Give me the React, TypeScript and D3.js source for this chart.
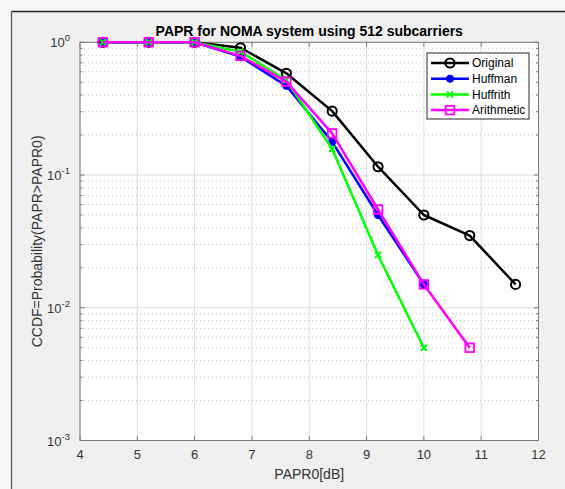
import * as d3 from "d3";
import React from "react";

// PAPR values in dB where the CCDF was sampled
const paprOriginal = [4.4, 5.2, 6, 6.8, 7.6, 8.4, 9.2, 10, 10.8, 11.6];
const ccdfOriginal = [1, 1, 1, 0.91, 0.584, 0.303, 0.1155, 0.05, 0.035, 0.015];

const paprHuffman = [4.4, 5.2, 6, 6.8, 7.6, 8.4, 9.2, 10];
const ccdfHuffman = [1, 1, 1, 0.78, 0.47, 0.178, 0.05, 0.015];

const paprHuffrith = [4.4, 5.2, 6, 6.8, 7.6, 8.4, 9.2, 10];
const ccdfHuffrith = [1, 1, 1, 0.85, 0.52, 0.157, 0.025, 0.005];

const paprArithmetic = [4.4, 5.2, 6, 6.8, 7.6, 8.4, 9.2, 10, 10.8];
const ccdfArithmetic = [1, 1, 1, 0.79, 0.505, 0.206, 0.055, 0.015, 0.005];

const xTicks = [4, 5, 6, 7, 8, 9, 10, 11, 12];
const yDecades = [0, -1, -2, -3];

const W = 565;
const H = 489;
const margin = { left: 80, right: 26.5, top: 42.3, bottom: 48.5 };
const font = "'Liberation Sans', Arial, Helvetica, sans-serif";

const series = [
  { name: "Original", x: paprOriginal, y: ccdfOriginal, color: "#000000", marker: "circle" },
  { name: "Huffman", x: paprHuffman, y: ccdfHuffman, color: "#0000ff", marker: "dot" },
  { name: "Huffrith", x: paprHuffrith, y: ccdfHuffrith, color: "#00ff00", marker: "cross" },
  { name: "Arithmetic", x: paprArithmetic, y: ccdfArithmetic, color: "#ff00ff", marker: "square" },
];

const Marker = ({ type, cx, cy, color }) => {
  if (type === "circle")
    return <circle cx={cx} cy={cy} r={4.6} fill="none" stroke={color} strokeWidth={2} />;
  if (type === "dot")
    return <circle cx={cx} cy={cy} r={3.6} fill={color} stroke={color} strokeWidth={1} />;
  if (type === "cross")
    return (
      <path
        d={`M${cx - 3},${cy - 3}L${cx + 3},${cy + 3}M${cx - 3},${cy + 3}L${cx + 3},${cy - 3}`}
        stroke={color}
        strokeWidth={2}
      />
    );
  return (
    <rect x={cx - 4.3} y={cy - 4.3} width={8.6} height={8.6} fill="none" stroke={color} strokeWidth={1.8} />
  );
};

export default function App() {
  const x0 = margin.left;
  const x1 = W - margin.right;
  const y0 = margin.top;
  const y1 = H - margin.bottom;

  const x = d3.scaleLinear().domain([4, 12]).range([x0, x1]);
  const y = d3.scaleLog().domain([1e-3, 1]).range([y1, y0]);

  const minors = [];
  yDecades.slice(1).forEach((e) => {
    for (let k = 2; k <= 9; k++) minors.push(k * Math.pow(10, e));
  });

  const line = d3
    .line()
    .x((d) => x(d[0]))
    .y((d) => y(d[1]));

  const tick = 4.6;
  const legX = 427;
  const legY = 53;
  const rowH = 15.7;

  return (
    <svg
      width={W}
      height={H}
      style={{ position: "absolute", left: 0, top: 0, fontFamily: font }}
    >
      <rect width={W} height={H} fill="#f7f7f7" />
      <rect x={11.5} y={11.5} width={W} height={H} fill="#f0f0f0" />
      <line x1={11.5} y1={11.5} x2={W} y2={11.5} stroke="#222" strokeWidth={1.3} />
      <line x1={11.5} y1={11.5} x2={11.5} y2={H} stroke="#555" strokeWidth={1.3} />

      <rect x={x0} y={y0} width={x1 - x0} height={y1 - y0} fill="#ffffff" />

      {/* minor grid */}
      {minors.map((v) => (
        <line
          key={"mg" + v}
          x1={x0}
          x2={x1}
          y1={y(v)}
          y2={y(v)}
          stroke="#c4c4c4"
          strokeWidth={1}
          strokeDasharray="1,3"
        />
      ))}
      {/* major grid */}
      {xTicks.map((t) => (
        <line key={"gx" + t} x1={x(t)} x2={x(t)} y1={y0} y2={y1} stroke="#dedede" strokeWidth={1} />
      ))}
      {yDecades.map((e) => (
        <line
          key={"gy" + e}
          x1={x0}
          x2={x1}
          y1={y(Math.pow(10, e))}
          y2={y(Math.pow(10, e))}
          stroke="#dedede"
          strokeWidth={1}
        />
      ))}

      {/* ticks */}
      {xTicks.map((t) => (
        <g key={"tx" + t} stroke="#7a7a7a">
          <line x1={x(t)} x2={x(t)} y1={y1} y2={y1 - tick} />
          <line x1={x(t)} x2={x(t)} y1={y0} y2={y0 + tick} />
        </g>
      ))}
      {yDecades.map((e) => (
        <g key={"ty" + e} stroke="#7a7a7a">
          <line x1={x0} x2={x0 + tick} y1={y(Math.pow(10, e))} y2={y(Math.pow(10, e))} />
          <line x1={x1} x2={x1 - tick} y1={y(Math.pow(10, e))} y2={y(Math.pow(10, e))} />
        </g>
      ))}
      {minors.map((v) => (
        <g key={"tm" + v} stroke="#7a7a7a">
          <line x1={x0} x2={x0 + 2.5} y1={y(v)} y2={y(v)} />
          <line x1={x1} x2={x1 - 2.5} y1={y(v)} y2={y(v)} />
        </g>
      ))}

      <rect x={x0} y={y0} width={x1 - x0} height={y1 - y0} fill="none" stroke="#7a7a7a" strokeWidth={1} />

      {/* tick labels */}
      {xTicks.map((t) => (
        <text key={"lx" + t} x={x(t)} y={y1 + 18.5} fontSize={13} fill="#333" textAnchor="middle">
          {t}
        </text>
      ))}
      {yDecades.map((e) => (
        <text key={"ly" + e} x={x0 - 10} y={y(Math.pow(10, e)) + 5} fontSize={13} fill="#333" textAnchor="end">
          10
          <tspan fontSize={9.5} dy={-6}>
            {e}
          </tspan>
        </text>
      ))}

      {/* axis labels and title */}
      <text x={(x0 + x1) / 2} y={479} fontSize={14} fill="#333" textAnchor="middle">
        PAPR0[dB]
      </text>
      <text
        transform={`translate(37,${(y0 + y1) / 2}) rotate(-90)`}
        dy="0.35em"
        fontSize={14}
        fill="#333"
        textAnchor="middle"
      >
        CCDF=Probability(PAPR&gt;PAPR0)
      </text>
      <text x={(x0 + x1) / 2} y={36} fontSize={14} fontWeight="bold" fill="#000" textAnchor="middle">
        PAPR for NOMA system using 512 subcarriers
      </text>

      {/* data */}
      {series.map((s) => {
        const pts = s.x.map((v, i) => [v, s.y[i]]);
        return (
          <g key={s.name}>
            <path d={line(pts)} fill="none" stroke={s.color} strokeWidth={2.5} strokeLinejoin="round" />
            {pts.map((p, i) => (
              <Marker key={i} type={s.marker} cx={x(p[0])} cy={y(p[1])} color={s.color} />
            ))}
          </g>
        );
      })}

      {/* legend */}
      <rect x={legX} y={legY} width={102} height={66} fill="#ffffff" stroke="#262626" strokeWidth={1} />
      {series.map((s, i) => {
        const cy = legY + 10 + i * rowH;
        return (
          <g key={"lg" + s.name}>
            <line x1={legX + 4} x2={legX + 42} y1={cy} y2={cy} stroke={s.color} strokeWidth={2.5} />
            <Marker type={s.marker} cx={legX + 23} cy={cy} color={s.color} />
            <text x={legX + 45} y={cy + 4.3} fontSize={12} fill="#000">
              {s.name}
            </text>
          </g>
        );
      })}
    </svg>
  );
}
